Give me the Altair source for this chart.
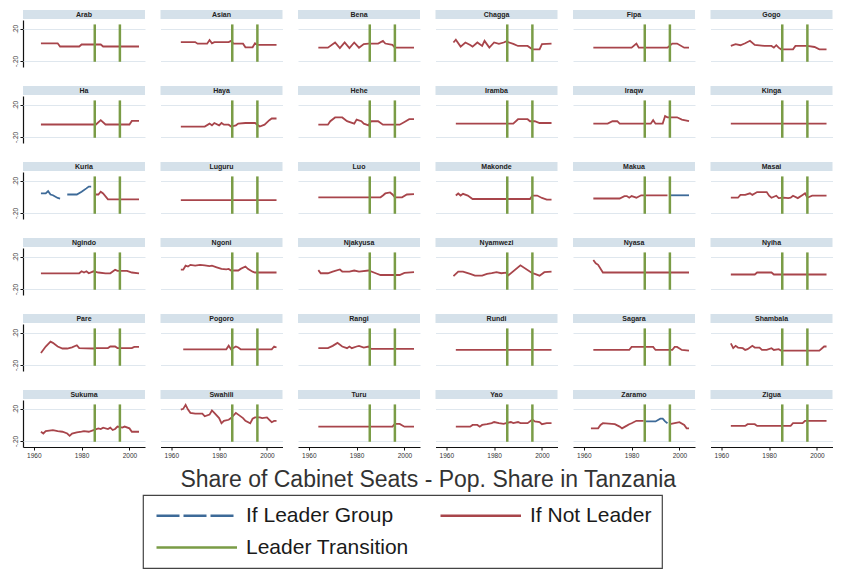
import altair as alt
import pandas as pd

# ---------------- data ----------------
GROUPS = ["Arab", "Asian", "Bena", "Chagga", "Fipa", "Gogo",
          "Ha", "Haya", "Hehe", "Iramba", "Iraqw", "Kinga",
          "Kuria", "Luguru", "Luo", "Makonde", "Makua", "Masai",
          "Ngindo", "Ngoni", "Njakyusa", "Nyamwezi", "Nyasa", "Nyiha",
          "Pare", "Pogoro", "Rangi", "Rundi", "Sagara", "Shambala",
          "Sukuma", "Swahili", "Turu", "Yao", "Zaramo", "Zigua"]

SERIES_LABELS = ["If Leader Group", "If Not Leader", "Leader Transition"]
TRANSITION_YEARS = [1985.5, 1996]
TITLE = "Share of Cabinet Seats - Pop. Share in Tanzania"
X_TICKS = [1960, 1980, 2000]
Y_TICKS = [-0.2, 0.0, 0.2]
Y_TICK_LABELS = ["-.20", "0", ".20"]

arab = [(1963, .02), (1970, .02), (1971, -.02), (1979, -.02), (1980, .005), (1988, .005), (1989, -.02), (2004, -.02)]
asian = [(1964, .035), (1970, .035), (1971, .015), (1975, .015), (1976, .06), (1977, .02), (1978, .035), (1984, .035),
         (1985, .05), (1986, .015), (1990, .015), (1991, -.03), (1994, -.03), (1995, .02), (1996, 0), (2004, 0)]
bena = [(1964, -.035), (1968, -.035), (1971, .03), (1973, -.04), (1975, .03), (1977, -.04), (1979, .03), (1981, -.035),
        (1983, .01), (1985, .017), (1989, .017), (1991, .05), (1992, .017), (1995, 0), (1996, -.035), (2004, -.035)]
chagga = [(1963, .03), (1964, .064), (1966, -.021), (1968, .03), (1970, 0), (1971, -.021), (1973, .03), (1975, -.013),
          (1976, .05), (1978, -.034), (1980, .03), (1982, .013), (1984, .03), (1985, .043), (1988, .013), (1990, -.013),
          (1994, -.013), (1996, -.055), (1999, -.055), (2000, .009), (2004, .017)]
fipa = [(1964, -.035), (1980, -.035), (1982, .017), (1983, -.035), (1995, -.035), (1997, .017), (1999, .017), (2002, -.035), (2004, -.035)]
gogo = [(1964, -.013), (1966, .009), (1968, -.004), (1970, .021), (1972, .051), (1974, 0), (1978, -.013), (1981, -.013),
        (1982, -.034), (1983, -.004), (1984, -.034), (1985, -.055), (1990, -.055), (1991, -.013), (1996, -.013),
        (1999, -.026), (2001, -.055), (2004, -.055)]
ha = [(1963, -.045), (1986, -.045), (1988, .01), (1990, -.045), (2000, -.045), (2001, 0), (2004, 0)]
haya = [(1964, -.07), (1974, -.07), (1976, -.034), (1977, -.055), (1978, -.026), (1980, -.055), (1981, -.026), (1982, -.047),
        (1984, -.047), (1985, -.07), (1987, -.055), (1988, -.034), (1991, -.026), (1995, -.026), (1997, -.07), (1999, -.047),
        (2001, .009), (2002, .03), (2004, .03)]
hehe = [(1964, -.047), (1968, -.047), (1969, -.004), (1971, .043), (1974, .043), (1976, -.004), (1979, -.034), (1980, .017),
        (1982, -.004), (1983, -.034), (1985, -.055), (1986, -.004), (1989, -.004), (1991, -.047), (1998, -.047),
        (2000, -.013), (2002, .021), (2004, .021)]
iramba = [(1964, -.034), (1988, -.034), (1990, .021), (1994, .021), (1995, -.004), (1997, -.004), (1999, -.026), (2004, -.026)]
iraqw = [(1964, -.034), (1970, -.034), (1972, -.004), (1974, -.004), (1975, -.034), (1988, -.034), (1989, .009), (1990, -.034),
         (1993, -.034), (1994, .06), (1995, .045), (1999, .045), (2001, .017), (2004, -.004)]
kinga = [(1964, -.034), (2004, -.034)]
kuria_leader_1 = [(1963, .043), (1965, .043), (1966, .072), (1967, .03), (1968, .021), (1970, -.013), (1971, -.021)]
kuria_leader_2 = [(1974, .03), (1978, .03), (1980, .064), (1982, .106), (1983, .128), (1984, .128)]
kuria = [(1986, .03), (1987, .03), (1988, .064), (1989, .043), (1991, -.03), (2004, -.03)]
luguru = [(1964, -.04), (2004, -.04)]
luo = [(1964, -.005), (1990, -.005), (1991, .017), (1992, .043), (1994, .055), (1995, .03), (1996, -.005), (1999, -.005),
       (2001, .03), (2004, .035)]
makonde = [(1964, .017), (1965, .043), (1966, .017), (1967, .038), (1969, .017), (1971, -.026), (1995, -.026), (1996, .017),
           (1998, .017), (2000, -.013), (2002, -.034), (2004, -.034)]
makua = [(1964, -.02), (1975, -.02), (1977, .01), (1978, .01), (1979, -.01), (1980, .01), (1981, 0), (1982, -.01), (1984, .02), (1995, .02)]
makua_leader = [(1996, .02), (2004, .02)]
masai = [(1964, -.01), (1967, -.01), (1968, .025), (1970, .025), (1972, .045), (1973, .025), (1975, .06), (1979, .06),
         (1980, .015), (1981, -.01), (1983, .015), (1984, -.015), (1986, -.01), (1988, -.015), (1989, -.01), (1990, .015),
         (1992, -.015), (1994, .025), (1995, .045), (1996, -.01), (1998, .015), (2004, .015)]
ngindo = [(1963, -.005), (1979, -.005), (1980, .02), (1981, .005), (1982, .02), (1983, -.005), (1985, .02), (1987, .005),
          (1990, -.005), (1992, -.005), (1994, .04), (1995, .025), (1999, .025), (2001, .005), (2004, -.005)]
ngoni = [(1964, .04), (1965, .04), (1966, .09), (1967, .08), (1968, .1), (1970, .09), (1972, .1), (1974, .095), (1976, .085),
         (1977, .09), (1979, .07), (1981, .05), (1983, .045), (1984, .05), (1985, .03), (1988, .03), (1989, .05), (1991, .08),
         (1992, .05), (1994, .015), (1995, .005), (2004, .005)]
njakyusa = [(1964, .035), (1965, -.004), (1968, -.004), (1970, .017), (1973, .043), (1974, .017), (1977, .017), (1979, .03),
            (1981, .017), (1985, .03), (1988, -.004), (1990, -.026), (1998, -.026), (2000, 0), (2004, .009)]
nyamwezi = [(1963, -.04), (1965, .017), (1967, .017), (1970, -.013), (1972, -.034), (1975, -.034), (1977, -.013), (1979, -.004),
            (1981, .009), (1983, -.004), (1985, .004), (1986, -.03), (1991, .094), (1996, -.004), (1997, -.013), (1999, -.034),
            (2001, .009), (2004, .017)]
nyasa = [(1964, .16), (1965, .12), (1966, .1), (1968, .005), (2004, .005)]
nyiha = [(1964, -.02), (1974, -.02), (1975, .005), (1981, .005), (1982, -.02), (2004, -.02)]
pare = [(1963, -.05), (1965, .03), (1967, .09), (1968, .075), (1970, .03), (1972, .005), (1974, .005), (1976, .02), (1978, .045),
        (1979, .01), (1985, .005), (1986, .01), (1991, .01), (1992, .03), (1994, .03), (1995, .01), (2001, .01), (2002, .025), (2004, .025)]
pogoro = [(1965, -.005), (1983, -.005), (1984, .04), (1985, -.005), (1987, .03), (1988, .017), (1989, -.005), (2002, -.005),
          (2003, .03), (2004, .017)]
rangi = [(1964, .009), (1968, .009), (1970, .038), (1972, .075), (1974, .03), (1976, .009), (1977, .03), (1978, .009), (1980, .03),
         (1981, .038), (1983, .017), (1985, .03), (1986, 0), (2004, 0)]
rundi = [(1964, -.013), (2004, -.013)]
sagara = [(1964, -.013), (1979, -.013), (1980, .025), (1989, .025), (1990, -.013), (1997, -.013), (1998, .025), (1999, .025),
          (2001, -.013), (2004, -.021)]
shambala = [(1964, .07), (1965, .01), (1966, .038), (1967, .017), (1969, .009), (1970, -.013), (1971, -.004), (1973, .038),
            (1974, .017), (1976, .017), (1977, -.013), (1979, -.013), (1981, .009), (1982, -.013), (1984, -.004), (1985, -.021),
            (2001, -.021), (2003, .03), (2004, .03)]
sukuma = [(1963, -.085), (1964, -.107), (1965, -.077), (1968, -.064), (1970, -.077), (1972, -.085), (1974, -.107), (1975, -.136),
          (1976, -.107), (1978, -.094), (1980, -.085), (1981, -.077), (1983, -.085), (1985, -.064), (1987, -.043), (1988, -.051),
          (1989, -.034), (1991, -.051), (1992, -.034), (1993, -.064), (1994, -.051), (1995, -.021), (1997, -.034), (1998, -.021),
          (2000, -.043), (2001, -.085), (2004, -.085)]
swahili = [(1964, .19), (1965, .2), (1966, .25), (1967, .19), (1968, .15), (1970, .14), (1973, .14), (1974, .107), (1976, .128),
           (1977, .18), (1978, .15), (1980, .085), (1981, .02), (1982, .05), (1984, .064), (1985, .085), (1987, .15), (1988, .128),
           (1990, .085), (1991, .05), (1993, .02), (1994, .077), (1995, .094), (1997, .094), (1998, .085), (2000, .094),
           (2001, .064), (2002, .034), (2003, .05), (2004, .05)]
turu = [(1964, -.022), (1995, -.022), (1996, .013), (1998, .013), (2000, -.022), (2004, -.022)]
yao = [(1964, -.022), (1970, -.022), (1971, 0), (1973, 0), (1974, -.022), (1975, 0), (1977, .009), (1979, .022), (1980, .036),
       (1982, .022), (1984, .013), (1985, .022), (1987, .036), (1988, .022), (1990, .036), (1991, .022), (1994, .022), (1996, .067),
       (1997, .044), (1999, .036), (2000, .009), (2002, .022), (2004, .022)]
zaramo = [(1963, -.043), (1966, -.043), (1967, 0), (1968, .021), (1973, .009), (1975, -.021), (1976, -.043), (1978, -.009),
          (1979, .009), (1980, .021), (1982, .051), (1985, .051)]
zaramo_leader = [(1986, .043), (1990, .043), (1992, .077), (1993, .077), (1994, .043), (1995, .02)]
zaramo_after = [(1996, .009), (1998, .021), (2000, .034), (2002, 0), (2003, -.043), (2004, -.043)]
zigua = [(1964, -.013), (1970, -.013), (1971, .009), (1974, .009), (1975, -.013), (1989, -.013), (1990, .021), (1994, .021),
         (1995, .051), (2004, .051)]

LEAD, NOT = SERIES_LABELS[0], SERIES_LABELS[1]
PANELS = {
    "Arab": [(NOT, arab)], "Asian": [(NOT, asian)], "Bena": [(NOT, bena)], "Chagga": [(NOT, chagga)],
    "Fipa": [(NOT, fipa)], "Gogo": [(NOT, gogo)], "Ha": [(NOT, ha)], "Haya": [(NOT, haya)], "Hehe": [(NOT, hehe)],
    "Iramba": [(NOT, iramba)], "Iraqw": [(NOT, iraqw)], "Kinga": [(NOT, kinga)],
    "Kuria": [(LEAD, kuria_leader_1), (LEAD, kuria_leader_2), (NOT, kuria)],
    "Luguru": [(NOT, luguru)], "Luo": [(NOT, luo)], "Makonde": [(NOT, makonde)],
    "Makua": [(NOT, makua), (LEAD, makua_leader)], "Masai": [(NOT, masai)],
    "Ngindo": [(NOT, ngindo)], "Ngoni": [(NOT, ngoni)], "Njakyusa": [(NOT, njakyusa)], "Nyamwezi": [(NOT, nyamwezi)],
    "Nyasa": [(NOT, nyasa)], "Nyiha": [(NOT, nyiha)], "Pare": [(NOT, pare)], "Pogoro": [(NOT, pogoro)],
    "Rangi": [(NOT, rangi)], "Rundi": [(NOT, rundi)], "Sagara": [(NOT, sagara)], "Shambala": [(NOT, shambala)],
    "Sukuma": [(NOT, sukuma)], "Swahili": [(NOT, swahili)], "Turu": [(NOT, turu)], "Yao": [(NOT, yao)],
    "Zaramo": [(NOT, zaramo), (LEAD, zaramo_leader), (NOT, zaramo_after)], "Zigua": [(NOT, zigua)],
}

# ---------------- build table ----------------
NCOL = 6
rows = []
for k, name in enumerate(GROUPS):
    r, c = k // NCOL, k % NCOL
    rows.append(dict(group=name, r=r, c=c, kind="hdr"))
    for ty in TRANSITION_YEARS:
        rows.append(dict(group=name, r=r, c=c, kind="trans", series=SERIES_LABELS[2], year=ty))
    for i, (status, pts) in enumerate(PANELS[name]):
        for yr, v in pts:
            rows.append(dict(group=name, r=r, c=c, kind="line", series=status, seg=f"{name}_{i}", year=yr, value=v))
df = pd.DataFrame(rows)

# ---------------- styling ----------------
W, H = 122, 47
RED, BLUE, GREEN = "#a8454b", "#3d6a98", "#7a9c46"
HDR_FILL, GRID = "#d5e1ea", "#dfe7ee"
FONT = "Liberation Sans"

color_enc = alt.Color("series:N", scale=alt.Scale(domain=SERIES_LABELS, range=[BLUE, RED, GREEN]), title=None)
dash_enc = alt.StrokeDash("series:N", scale=alt.Scale(domain=SERIES_LABELS, range=[[23, 4], [1, 0], [1, 0]]), title=None)
xscale = alt.Scale(domain=[1955.5, 2006.5], nice=False, zero=False)
yscale = alt.Scale(domain=[-0.275, 0.31], nice=False, zero=False)

y_label_expr = ("datum.value < -0.1 ? '%s' : (datum.value > 0.1 ? '%s' : '%s')"
                % (Y_TICK_LABELS[0], Y_TICK_LABELS[2], Y_TICK_LABELS[1]))

x_enc = alt.X("year:Q", scale=xscale,
              axis=alt.Axis(values=X_TICKS, format="d", title=None, grid=False, labelFontSize=6.5,
                            tickSize=3, labelPadding=2, labelOverlap=False))
y_enc = alt.Y("value:Q", scale=yscale,
              axis=alt.Axis(values=Y_TICKS, title=None, grid=True, gridColor=GRID, gridWidth=1,
                            labelExpr=y_label_expr,
                            labelAngle=270, labelAlign="center", labelBaseline="bottom", labelOverlap=False,
                            labelFlush=False, labelBound=False,
                            tickSize=3, labelPadding=2, labelFontSize=6.5))

base = alt.Chart()

hdr_rect = base.mark_rect(color=HDR_FILL).encode(
    x=alt.value(0), x2=alt.value(W), y=alt.value(-10), y2=alt.value(-1)
).transform_filter(alt.datum.kind == "hdr")

hdr_text = base.mark_text(font=FONT, fontSize=7, fontWeight="bold", color="#222", baseline="middle").encode(
    x=alt.value(W / 2), y=alt.value(-5.5), text="group:N"
).transform_filter(alt.datum.kind == "hdr")

lines = base.mark_line(strokeWidth=1.8).encode(
    x=x_enc, y=y_enc, color=color_enc, detail="seg:N"
).transform_filter(alt.datum.kind == "line")

trans = base.mark_rule(strokeWidth=2.5).encode(
    x=alt.X("year:Q"), y=alt.datum(-0.21), y2=alt.datum(0.255), color=color_enc
).transform_filter(alt.datum.kind == "trans")

legend_only = base.mark_line().encode(
    x=alt.X("year:Q"), y=alt.Y("value:Q"), color=color_enc, strokeDash=dash_enc
).transform_filter(alt.datum.kind == "legend")

panel = alt.layer(hdr_rect, hdr_text, lines, trans, legend_only).properties(width=W, height=H)

no_header = alt.Header(labels=False, title=None)
grid = panel.facet(
    row=alt.Row("r:O", header=no_header, title=None),
    column=alt.Column("c:O", header=no_header, title=None),
    data=df, spacing={"row": 19, "column": 15.5},
).properties(
    title=alt.TitleParams(TITLE, orient="bottom", anchor="middle", font=FONT, fontSize=23,
                          fontWeight="normal", color="#333", offset=10, dx=6)
)

# legend symbol: a long horizontal stroke drawn from a small symbol box (r = 7px)
SYMBOL_PATH = "M-1,0H10.5"

chart = alt.vconcat(grid).properties(
    padding={"left": 3, "top": 2, "right": 0, "bottom": 0}
).configure_view(stroke=None).configure_axis(
    domainColor="#111", tickColor="#111", labelColor="#333", labelFont=FONT, domainWidth=1.2
).configure_legend(
    orient="none", legendX=120, legendY=475, columns=2, direction="horizontal", symbolType=SYMBOL_PATH,
    symbolSize=196, symbolStrokeWidth=2.5, labelFont=FONT, labelFontSize=21, labelColor="#1a1a1a",
    labelOffset=72, labelLimit=400, strokeColor="#444", strokeWidth=1.2, padding=10, rowPadding=10,
    columnPadding=26, gridAlign="all"
)

chart.save("out.html", embed_options={"renderer": "svg", "actions": False})
